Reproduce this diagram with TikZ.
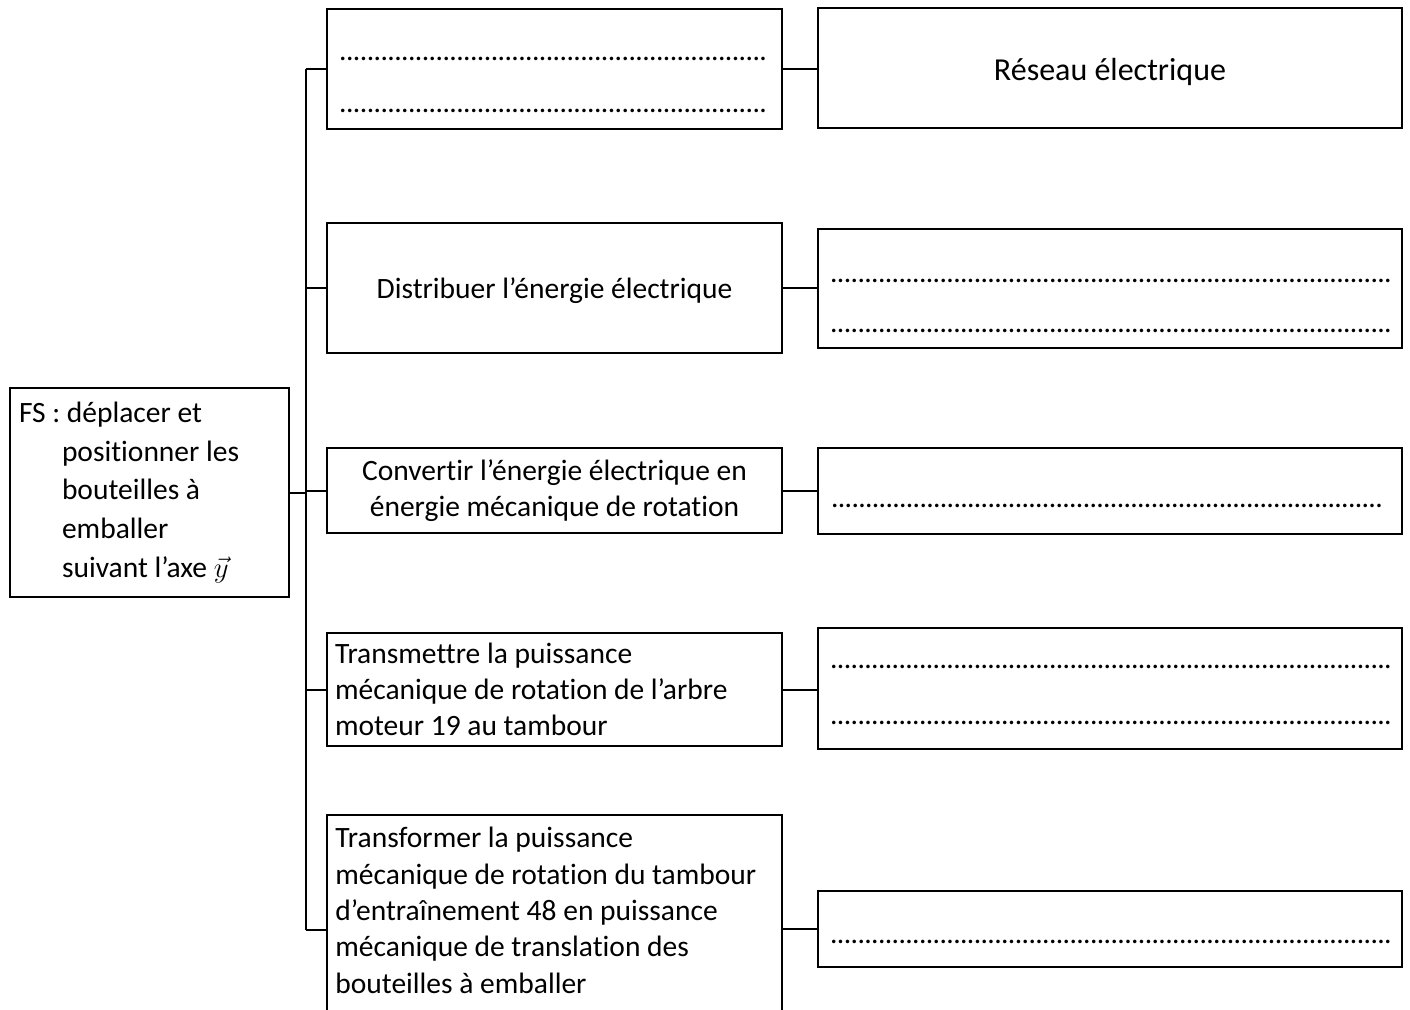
\documentclass[tikz,border=0pt]{standalone}
\usepackage{fontspec}
\setmainfont{Carlito}[Ligatures=NoCommon]
\newcommand{\dotline}[1]{\hbox to #1pt{\xleaders\hbox to 3.4pt{\hss.\hss}\hfill}}

\begin{document}
\begin{tikzpicture}[x=0.5pt, y=-0.5pt,
    function/.style ={rectangle, draw, line width=1pt, inner sep=0pt, font=\fontsize{14.75pt}{18.15pt}\selectfont},
    colone/.style ={function, minimum width=227.5pt},
    coltwo/.style ={function, minimum width=292pt},
    single/.style ={text height=10pt, text depth=0pt},
    dotrow/.style ={inner sep=0pt, anchor=base west, font=\fontsize{14.75pt}{18pt}\selectfont},
    link/.style ={line width=1pt}]
   \useasboundingbox (0,0) rectangle (1410,1009);
   \clip (0,0) rectangle (1410,1009);
   % main function
   \node[function, minimum width=139.5pt, minimum height=104.5pt, text width=130.5pt, align=flush left,
         font=\fontsize{14.75pt}{19.4pt}\selectfont] (FS) at (149.5,492.5)
        {FS : déplacer et\\ \hspace*{21.5pt}positionner les\\ \hspace*{21.5pt}bouteilles à\\
         \hspace*{21.5pt}emballer\\ \hspace*{21.5pt}suivant l’axe $\vec{y}$};
   % technical functions
   \node[colone, minimum height=60pt] (f1) at (554.5,69) {};
   \node[dotrow] (f1a) at (339,60) {\dotline{214}};
   \node[dotrow] (f1b) at (339,112) {\dotline{214}};
   \node[colone, single, minimum height=65pt] (f2) at (554.5,288) {Distribuer l’énergie électrique};
   \node[colone, minimum height=42.5pt, align=center] (f3) at (554.5,490.5)
        {Convertir l’énergie électrique en\\énergie mécanique de rotation};
   \node[colone, minimum height=56.5pt, text width=219.5pt, align=flush left] (f4) at (554.5,689.5)
        {Transmettre la puissance\\mécanique de rotation de l’arbre\\moteur 19 au tambour};
   \node[colone, minimum height=107.5pt] (f5) at (554.5,922.5) {};
   \node[inner sep=0pt, text width=219.5pt, align=flush left, anchor=north west,
         font=\fontsize{14.75pt}{18.15pt}\selectfont] (t5) at (335,827)
        {Transformer la puissance\\mécanique de rotation du tambour\\d’entraînement 48 en puissance\\
         mécanique de translation des\\bouteilles à emballer};
   % solutions
   \node[coltwo, single, text height=12pt, minimum height=60pt, font=\fontsize{16pt}{19pt}\selectfont] (s1) at (1110,68) {Réseau électrique};
   \node[coltwo, minimum height=59.5pt] (s2) at (1110,288.5) {};
   \node[dotrow] (s2a) at (830,282) {\dotline{281}};
   \node[dotrow] (s2b) at (830,332) {\dotline{281}};
   \node[coltwo, minimum height=43pt] (s3) at (1110,491) {};
   \node[dotrow] (s3a) at (831,507) {\dotline{276}};
   \node[coltwo, minimum height=60.5pt] (s4) at (1110,688.5) {};
   \node[dotrow] (s4a) at (830,668) {\dotline{281}};
   \node[dotrow] (s4b) at (830,724) {\dotline{281}};
   \node[coltwo, minimum height=38pt] (s5) at (1110,929) {};
   \node[dotrow] (s5a) at (830,943) {\dotline{281}};
   % connectors
   \coordinate (bustop) at (306,69);
   \coordinate (busbot) at (306,930);
   \draw[link] (bustop) -- (busbot);
   \draw[link] (FS.east) -- (FS.east -| bustop);
   \draw[link] (bustop) -- (bustop -| f1.west);
   \draw[link] (f2.west -| bustop) -- (f2.west);
   \draw[link] (f3.west -| bustop) -- (f3.west);
   \draw[link] (f4.west -| bustop) -- (f4.west);
   \draw[link] (busbot) -- (busbot -| f5.west);
   \draw[link] (f1.east) -- (f1.east -| s1.west);
   \draw[link] (f2.east) -- (f2.east -| s2.west);
   \draw[link] (f3.east) -- (f3.east -| s3.west);
   \draw[link] (f4.east) -- (f4.east -| s4.west);
   \draw[link] (s5.west -| f5.east) -- (s5.west);
 \end{tikzpicture}
\end{document}
